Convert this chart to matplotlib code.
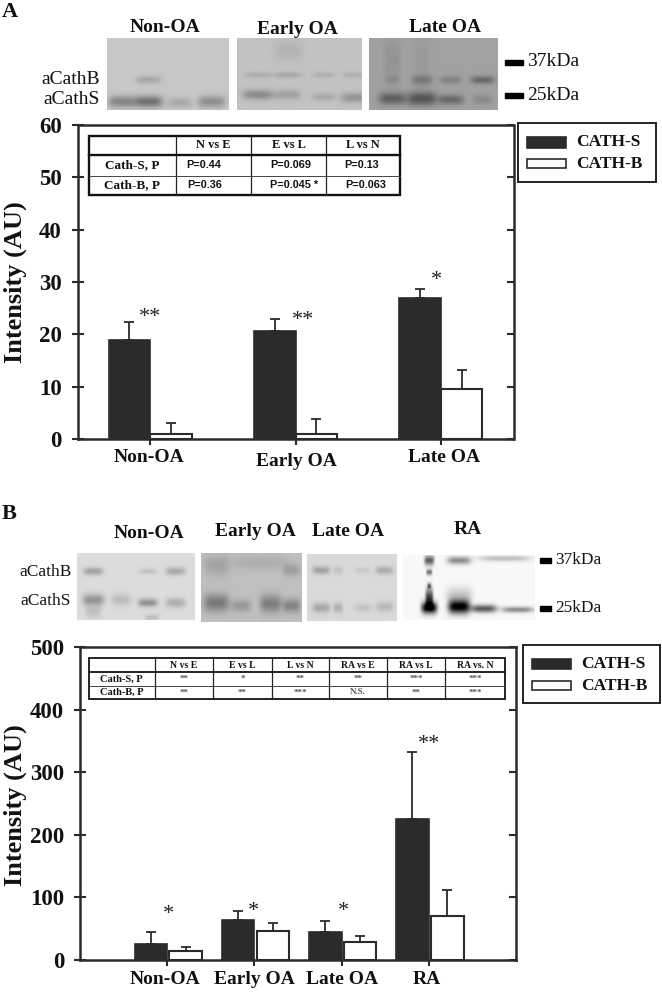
import numpy as np
import matplotlib
matplotlib.use("Agg")
import matplotlib.pyplot as plt
from matplotlib.patches import Rectangle

plt.rcParams['font.family'] = ['Liberation Serif', 'DejaVu Serif']

W, H = 662, 992
DARK = '#2b2b2b'

# Panel A data
cats_a = ['Non-OA', 'Early OA', 'Late OA']
cath_s_a = [19, 20.6, 27]
cath_s_a_top = [22.3, 23, 28.6]
cath_b_a = [1, 1, 9.5]
cath_b_a_top = [3, 3.8, 13.2]
stars_a = ['**', '**', '*']
star_x_a = [0.0, 0.05, -0.03]
star_y_a = [23.3, 22.7, 30.3]
table_a_cols = ['', 'N vs E', 'E vs L', 'L vs N']
table_a_rows = [['Cath-S, P', 'P=0.44', 'P=0.069', 'P=0.13'],
                ['Cath-B, P', 'P=0.36', 'P=0.045 *', 'P=0.063']]

# Panel B data
cats_b = ['Non-OA', 'Early OA', 'Late OA', 'RA']
cath_s_b = [26, 64, 44, 225]
cath_s_b_top = [44, 79, 62, 333]
cath_b_b = [14, 47, 28, 71]
cath_b_b_top = [20, 59, 38, 112]
stars_b = ['*', '*', '*', '**']
star_x_b = [0.01, -0.015, 0.02, 0.0]
star_y_b = [73, 78, 78, 345]
table_b_cols = ['', 'N vs E', 'E vs L', 'L vs N', 'RA vs E', 'RA vs L', 'RA vs. N']
table_b_rows = [['Cath-S, P', '**', '*', '**', '**', '***', '***'],
                ['Cath-B, P', '**', '**', '***', 'N.S.', '**', '***']]

# Blot panels: extent (x0, x1, y0, y1), background, bands (x, y, half-w, half-h, darkness)
blots = [
    ((107, 229, 38, 110), 0.78, [(121, 102, 13, 6, .26), (148, 102, 15, 6, .34), (180, 103, 12, 5, .12),
                                 (212, 102, 14, 6, .22), (148, 80, 13, 4, .13)]),
    ((237, 362, 38, 110), 0.76, [(258, 95, 16, 5, .22), (288, 95, 13, 5, .13), (324, 97, 12, 4, .10),
                                 (354, 98, 13, 5, .18), (258, 75, 14, 3, .08), (288, 75, 14, 3, .10),
                                 (324, 75, 11, 3, .07), (354, 75, 11, 3, .07), (288, 50, 15, 10, .06)]),
    ((369, 498, 38, 110), 0.63, [(392, 99, 14, 6, .26), (422, 99, 15, 7, .30), (451, 100, 13, 5, .22),
                                 (483, 100, 10, 5, .09), (422, 80, 11, 5, .15), (451, 80, 11, 4, .12),
                                 (483, 80, 12, 4, .22), (392, 80, 7, 4, .07), (392, 60, 9, 25, .05),
                                 (422, 60, 8, 25, .03)]),
    ((77, 195, 553, 620), 0.86, [(93, 571, 10, 4, .22), (148, 571, 9, 3, .10), (176, 571, 10, 4, .20),
                                 (93, 600, 11, 6, .28), (121, 600, 10, 6, .12), (148, 603, 10, 4, .30),
                                 (176, 603, 10, 5, .18), (93, 612, 8, 6, .11), (152, 618, 7, 3, .12)]),
    ((201, 302, 553, 622), 0.75, [(216, 603, 13, 9, .28), (241, 606, 10, 6, .16), (271, 604, 11, 9, .26),
                                  (292, 606, 9, 7, .24), (292, 570, 9, 6, .13), (216, 565, 13, 11, .11),
                                  (260, 562, 30, 7, .07)]),
    ((307, 397, 554, 621), 0.85, [(321, 570, 9, 4, .22), (385, 570, 9, 4, .18), (338, 570, 5, 4, .09),
                                  (363, 570, 7, 3, .07), (321, 608, 9, 5, .20), (338, 608, 5, 5, .16),
                                  (363, 608, 9, 4, .09), (385, 607, 9, 5, .13)]),
    ((403, 535, 555, 620), 0.97, [(429, 608, 8, 6, .95), (459, 607, 11, 7, 1.0), (484, 609, 13, 4, .62),
                                  (518, 610, 16, 3, .42), (429, 598, 4, 9, .7), (429, 560, 5, 5, .6),
                                  (429, 572, 3, 3, .5), (429, 586, 2, 3, .5), (459, 560, 12, 4, .42),
                                  (505, 558, 26, 3, .22), (459, 595, 13, 8, .18)]),
]
markers = [(505, 523, 62, '37kDa', 527, 14), (505, 523, 95, '25kDa', 527, 14),
           (540, 551, 560, '37kDa', 555, 12.4), (540, 551, 608, '25kDa', 555, 12.4)]
headers = [('Non-OA', 165, 27), ('Early OA', 297, 29), ('Late OA', 445, 27),
           ('Non-OA', 149.5, 533), ('Early OA', 255, 532), ('Late OA', 348.5, 532), ('RA', 467.5, 530)]
row_labels = [('aCathB', 70.5, 80, 14), ('aCathS', 72, 100, 14), ('aCathB', 46, 572, 12.5), ('aCathS', 46, 601, 12.5)]
label_pos_a = [(149, 458), (296, 461), (444, 457)]
label_pos_b = [(165.5, 979), (254.7, 980), (342, 979), (426.7, 979)]
p_x_a = [[186, 270, 344], [187, 270, 345]]

fig = plt.figure(figsize=(W / 100, H / 100), dpi=100, facecolor='white')
page = fig.add_axes([0, 0, 1, 1], zorder=0)

for (x0, x1, y0, y1), bg, bands in blots:
    xs, ys = np.meshgrid(np.linspace(x0, x1, int(x1 - x0)), np.linspace(y0, y1, int(y1 - y0)))
    img = np.full(xs.shape, float(bg))
    for bx, by, hw, hh, d in bands:
        img -= d * np.exp(-((xs - bx) / hw) ** 4) * np.exp(-((ys - by) / hh) ** 2)
    page.imshow(np.clip(img, 0, 1), extent=(x0, x1, y1, y0), cmap='gray', vmin=0, vmax=1,
                aspect='auto', interpolation='bilinear')

page.set_xlim(0, W)
page.set_ylim(H, 0)
page.axis('off')


def T(x, y, s, size, bold=True, ha='center'):
    page.text(x, y, s, fontsize=size, fontweight='bold' if bold else 'normal', ha=ha, va='center',
              color='#111111', zorder=5)


for s, x, y in headers:
    T(x, y, s, 14)
for s, x, y, fs in row_labels:
    T(x, y, s, fs, bold=False)
T(9.5, 12, 'A', 16)
T(9, 514, 'B', 16)
for x0, x1, y, s, tx, fs in markers:
    page.add_patch(Rectangle((x0, y - 2.5), x1 - x0, 5, color='black'))
    T(tx, y, s, fs, bold=False, ha='left')
for (x, y), s in zip(label_pos_a, cats_a):
    T(x, y, s, 14)
for (x, y), s in zip(label_pos_b, cats_b):
    T(x, y, s, 14)
page.text(15, 282, 'Intensity (AU)', rotation=90, fontsize=19, fontweight='bold', ha='center', va='center', color='#111111')
page.text(15, 805, 'Intensity (AU)', rotation=90, fontsize=19, fontweight='bold', ha='center', va='center', color='#111111')


def draw_bars(rect, cats, s, s_top, b, b_top, ylim, yticks, xlim, w, gap, stars, sx, sy):
    l, t, r, bt = rect
    ax = fig.add_axes([l / W, 1 - bt / H, (r - l) / W, (bt - t) / H], zorder=2)
    ax.patch.set_alpha(0)
    x = np.arange(len(cats))
    s, s_top, b, b_top = map(np.array, (s, s_top, b, b_top))
    ax.bar(x - w / 2, s, w, color=DARK, edgecolor=DARK, linewidth=1.2, zorder=3)
    ax.bar(x + gap + w / 2, b, w, color='white', edgecolor=DARK, linewidth=1.5, zorder=3)
    for xs_, v, top in ((x - w / 2, s, s_top), (x + gap + w / 2, b, b_top)):
        ax.errorbar(xs_, v, yerr=[0 * v, top - v], fmt='none', ecolor=DARK, elinewidth=1.3,
                    capsize=3.6, capthick=1.3, zorder=2)
    ax.set_xlim(*xlim)
    ax.set_ylim(*ylim)
    ax.set_xticks(x)
    ax.set_xticklabels([])
    ax.set_yticks(yticks)
    ax.set_yticklabels([str(v) for v in yticks], fontweight='bold', fontsize=16.5, color='#111111')
    for sp in ax.spines.values():
        sp.set_linewidth(1.8)
        sp.set_color(DARK)
    ax.tick_params(axis='y', direction='inout', length=8.5, width=1.5, pad=7, color=DARK)
    ax.tick_params(axis='x', direction='out', length=4, width=1.5, color=DARK)
    ax2 = ax.secondary_yaxis('right')
    ax2.set_yticks(yticks)
    ax2.set_yticklabels([])
    ax2.tick_params(direction='in', length=5, width=1.5, color=DARK)
    ax2.spines['right'].set_visible(False)
    for i, (xx, yy, st) in enumerate(zip(sx, sy, stars)):
        ax.text(i + xx, yy, st, ha='center', va='center', fontsize=16, color='#222222', zorder=5)
    return ax


ax_a = draw_bars((77.5, 125, 513.5, 439), cats_a, cath_s_a, cath_s_a_top, cath_b_a, cath_b_a_top,
                 (0, 60), [0, 10, 20, 30, 40, 50, 60], (-0.5, 2.5), 0.286, 0.0,
                 stars_a, star_x_a, star_y_a)
ax_b = draw_bars((80, 647, 516, 960), cats_b, cath_s_b, cath_s_b_top, cath_b_b, cath_b_b_top,
                 (0, 500), [0, 100, 200, 300, 400, 500], (-1, 4), 0.375, 0.025,
                 stars_b, star_x_b, star_y_b)

over = fig.add_axes([0, 0, 1, 1], zorder=4)
over.set_xlim(0, W)
over.set_ylim(H, 0)
over.axis('off')


def table(xs, ys, cols, rows, hsize, bsize, lw, star_size, rowsize, p_x=None):
    over.add_patch(Rectangle((xs[0], ys[0]), xs[-1] - xs[0], ys[-1] - ys[0], fc='white', ec='#111111', lw=lw))
    for xv in xs[1:-1]:
        over.plot([xv, xv], [ys[0], ys[-1]], color='#222222', lw=0.9)
    over.plot([xs[0], xs[-1]], [ys[1], ys[1]], color='#111111', lw=lw)
    over.plot([xs[0], xs[-1]], [ys[2], ys[2]], color='#444444', lw=0.7)
    for i, c in enumerate(cols):
        over.text((xs[i] + xs[i + 1]) / 2, (ys[0] + ys[1]) / 2, c, ha='center', va='center',
                  fontsize=hsize, fontweight='bold', color='#111111')
    for j, row in enumerate(rows):
        yc = (ys[j + 1] + ys[j + 2]) / 2
        for i, c in enumerate(row):
            cx = (xs[i] + xs[i + 1]) / 2
            if i == 0:
                over.text(cx, yc, c, ha='center', va='center', fontsize=rowsize, fontweight='bold', color='#111111')
            elif c.startswith('P'):
                over.text(p_x[j][i - 1], yc, c, ha='left', va='center', fontsize=bsize, fontweight='bold',
                          family='Liberation Sans', color='#111111')
            else:
                over.text(cx, yc, c, ha='center', va='center', fontsize=star_size, fontweight='bold', color='#555555')


table([89, 175.5, 251, 326, 400], [136, 155, 176, 195], table_a_cols, table_a_rows, 9, 7.8, 1.7, 7, 9.5, p_x_a)
table([88.6, 155, 213, 272, 329, 387, 445, 505], [658, 672, 686, 699], table_b_cols, table_b_rows, 7, 6, 1.3, 6.5, 7.5)


def legend(box, p0, p1, ys, tx, fs):
    x0, y0, x1, y1 = box
    over.add_patch(Rectangle((x0, y0), x1 - x0, y1 - y0, fc='white', ec='#222222', lw=1.4, clip_on=False))
    for (ya, yb), fc, lab in zip(ys, [DARK, 'white'], ['CATH-S', 'CATH-B']):
        over.add_patch(Rectangle((p0, ya), p1 - p0, yb - ya, fc=fc, ec=DARK, lw=1.2))
        over.text(tx, (ya + yb) / 2, lab, ha='left', va='center', fontsize=fs, fontweight='bold', color='#111111')


legend((518, 123, 656, 182), 527, 566, [(137, 148), (159, 168)], 576, 12.5)
legend((522.7, 645, 660, 703), 531.7, 570.7, [(659, 669), (681, 690)], 581, 12.5)

fig.savefig('out.png', dpi=100, facecolor='white')
